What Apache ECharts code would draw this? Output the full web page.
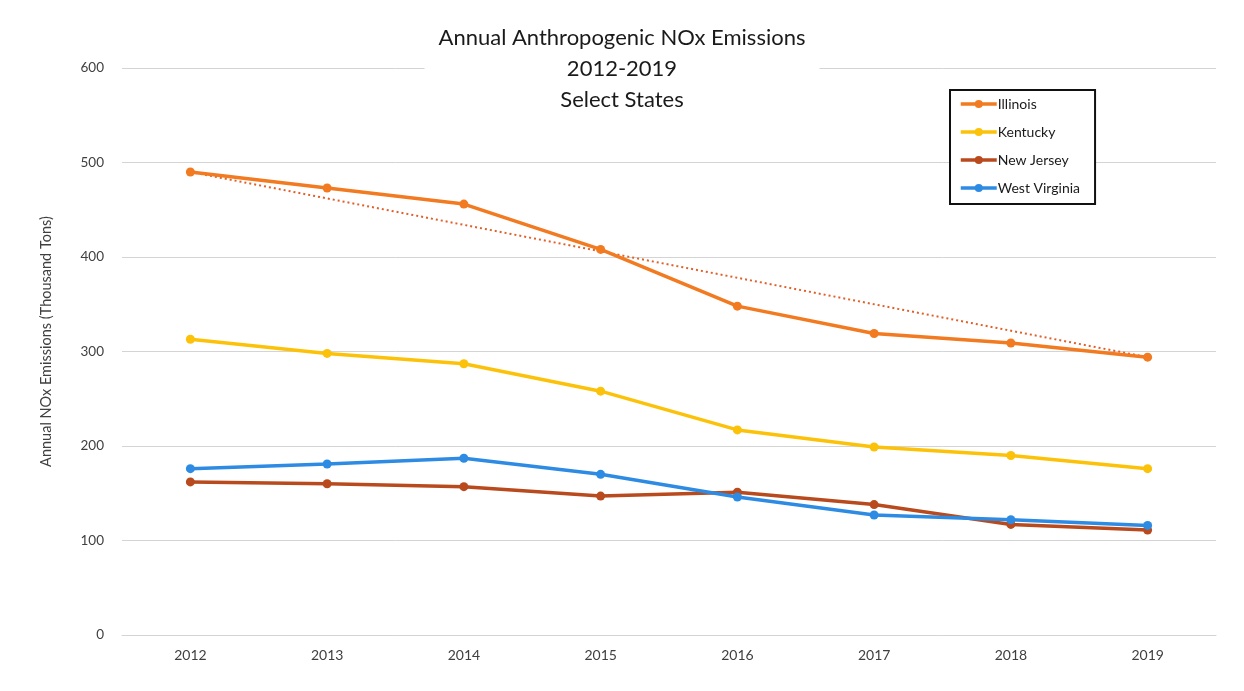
<!DOCTYPE html>
<html>
<head>
<meta charset="utf-8">
<script src="https://cdn.jsdelivr.net/npm/echarts@6/dist/echarts.min.js"></script>
<style>
  html, body { margin: 0; padding: 0; background: #ffffff; }
  #chart { width: 1244px; height: 691px; }
</style>
</head>
<body>
<div id="chart"></div>
<script>
// Annual anthropogenic NOx emissions, thousand tons
const years = ['2012', '2013', '2014', '2015', '2016', '2017', '2018', '2019'];
const illinois = [490, 473, 456, 408, 348, 319, 309, 294];
const kentucky = [313, 298, 287, 258, 217, 199, 190, 176];
const newJersey = [162, 160, 157, 147, 151, 138, 117, 111];
const westVirginia = [176, 181, 187, 170, 146, 127, 122, 116];
const yTicks = [0, 100, 200, 300, 400, 500, 600];

const FONT = 'Lato, "Open Sans", sans-serif';

function lineSeries(name, data, color) {
  return {
    name: name,
    type: 'line',
    data: data,
    symbol: 'circle',
    symbolSize: 9,
    lineStyle: { width: 3.5, color: color },
    itemStyle: { color: color },
    z: 3
  };
}

const chart = echarts.init(document.getElementById('chart'), null, { renderer: 'canvas' });

const ilSeries = lineSeries('Illinois', illinois, '#F27A21');
// Straight dotted trend for Illinois, first year to last year
ilSeries.markLine = {
  silent: true,
  symbol: ['none', 'none'],
  label: { show: false },
  lineStyle: { type: [2, 3], width: 2, color: '#E0602A' },
  data: [[
    { coord: [years[0], illinois[0]] },
    { coord: [years[years.length - 1], illinois[illinois.length - 1]] }
  ]],
  z: 2
};

chart.setOption({
  backgroundColor: '#ffffff',
  animation: false,
  title: {
    text: 'Annual Anthropogenic NOx Emissions\n2012-2019\nSelect States',
    left: 'center',
    top: 18,
    padding: [4, 14, 6, 14],
    backgroundColor: '#ffffff',
    textStyle: {
      fontFamily: FONT,
      fontSize: 22,
      fontWeight: 'normal',
      color: '#1a1a1a',
      lineHeight: 31
    }
  },
  legend: {
    orient: 'vertical',
    left: 950,
    top: 90,
    itemGap: 12,
    itemWidth: 36,
    itemHeight: 10,
    padding: [6, 15, 8, 9],
    borderColor: '#111111',
    borderWidth: 2,
    backgroundColor: '#ffffff',
    lineStyle: { width: 3.5 },
    textStyle: { fontFamily: FONT, fontSize: 14, color: '#1a1a1a', lineHeight: 16, padding: [0, 0, 0, -4] },
    data: ['Illinois', 'Kentucky', 'New Jersey', 'West Virginia']
  },
  grid: { left: 122, right: 28, top: 68, bottom: 56 },
  xAxis: {
    type: 'category',
    data: years,
    boundaryGap: true,
    axisLine: { show: true, lineStyle: { color: '#d4d4d4', width: 1 } },
    axisTick: { show: false },
    axisLabel: { fontFamily: FONT, fontSize: 14, color: '#404040', margin: 13 }
  },
  yAxis: {
    type: 'value',
    min: yTicks[0],
    max: yTicks[yTicks.length - 1],
    interval: yTicks[1] - yTicks[0],
    name: 'Annual NOx Emissions (Thousand Tons)',
    nameLocation: 'middle',
    nameGap: 68,
    nameTextStyle: { fontFamily: FONT, fontSize: 14.5, color: '#404040', padding: [0, 0, 0, 20] },
    axisLine: { show: false },
    axisTick: { show: false },
    axisLabel: { fontFamily: FONT, fontSize: 13.5, color: '#404040', margin: 18 },
    splitLine: { lineStyle: { color: '#d4d4d4', width: 1 } }
  },
  series: [
    ilSeries,
    lineSeries('Kentucky', kentucky, '#FCC20A'),
    lineSeries('New Jersey', newJersey, '#B84A1E'),
    lineSeries('West Virginia', westVirginia, '#2E8BE3')
  ]
});
</script>
</body>
</html>
